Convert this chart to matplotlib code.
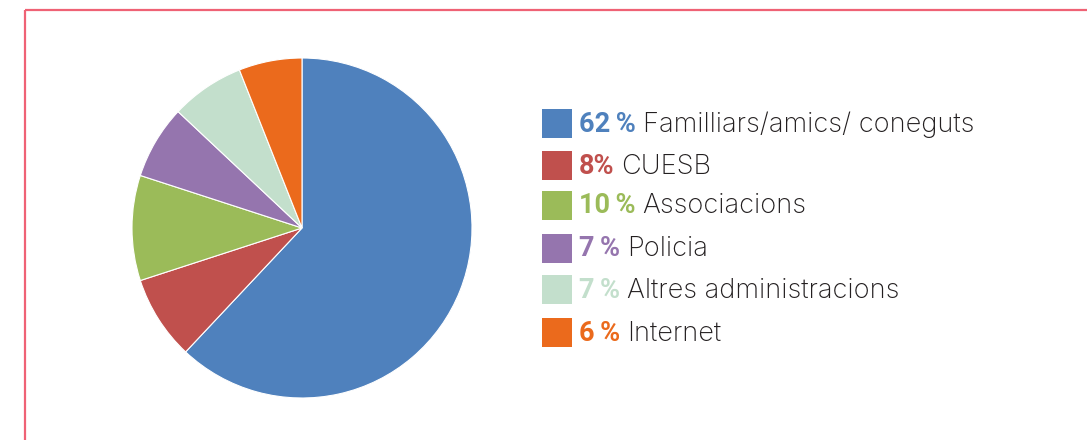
import matplotlib
matplotlib.use("Agg")
import matplotlib.pyplot as plt
from matplotlib.lines import Line2D
from matplotlib.patches import Rectangle

categories = ["Familliars/amics/ coneguts", "CUESB", "Associacions", "Policia",
              "Altres administracions", "Internet"]
values = [62, 8, 10, 7, 7, 6]
pct_labels = ["62\u2009%", "8%", "10\u2009%", "7\u2009%", "7\u2009%", "6\u2009%"]
colors = ["#4f81bd", "#c0504d", "#9bbb59", "#9575ae", "#c3dfcc", "#eb6a1c"]
text_colors = ["#4f81bd", "#c0504d", "#9bbb59", "#9575ae", "#c3dfcc", "#eb6a1c"]

W, H = 1087, 440
fig = plt.figure(figsize=(W / 100, H / 100), dpi=100)
fig.patch.set_facecolor("white")

# border
bc = "#ef6275"
fig.add_artist(Line2D([25 / W, 25 / W], [0, 1 - 10 / H], transform=fig.transFigure,
                      color=bc, lw=1.6, solid_capstyle="butt"))
fig.add_artist(Line2D([25 / W, 1], [1 - 10 / H, 1 - 10 / H], transform=fig.transFigure,
                      color=bc, lw=1.6, solid_capstyle="butt"))

# pie
cx, cy, r = 302, 228, 170
ax = fig.add_axes([(cx - r) / W, (H - cy - r) / H, 2 * r / W, 2 * r / H])
ax.pie(values, colors=colors, startangle=90, counterclock=False, radius=1,
       wedgeprops=dict(edgecolor="white", linewidth=0.8))
ax.set_xlim(-1, 1)
ax.set_ylim(-1, 1)
ax.set_aspect("auto")
ax.axis("off")

# legend
font_pct = "Roboto"
font_lab = "Inter"
fs = 19.6
centers = [123.5, 165.5, 205, 248, 289.5, 332.5]
fig.canvas.draw()
renderer = fig.canvas.get_renderer()
for i, (lab, pct) in enumerate(zip(categories, pct_labels)):
    yc = centers[i]
    yb = (H - yc - 8.3) / H
    fig.add_artist(Rectangle((542 / W, (H - yc - 14.5) / H), 30 / W, 29 / H,
                             transform=fig.transFigure, facecolor=colors[i],
                             edgecolor="none"))
    t = fig.text(579 / W, yb, pct, fontsize=19.5, fontweight="bold",
                 color=text_colors[i], family=font_pct, va="baseline", ha="left")
    bb = t.get_window_extent(renderer=renderer)
    fig.text((bb.x1 + 7) / W, yb, lab, fontsize=fs, color="#231f20",
             family=font_lab, fontweight="light", va="baseline", ha="left")

fig.savefig("out.png", dpi=100, facecolor="white")
